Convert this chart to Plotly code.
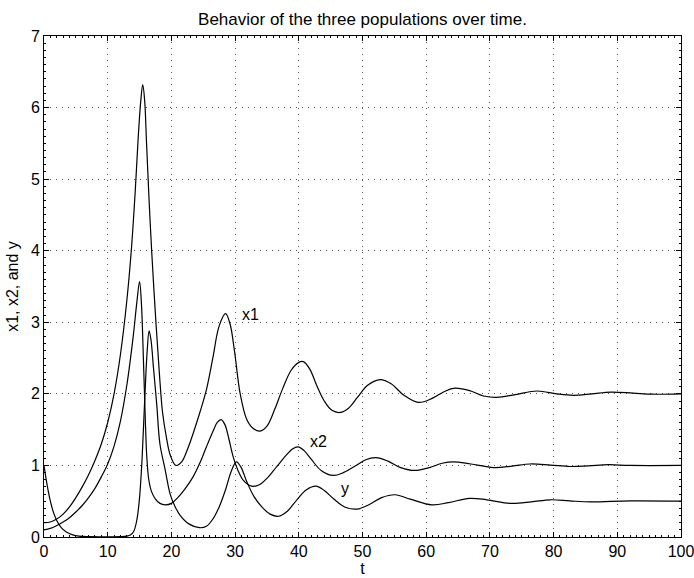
import plotly.graph_objects as go

# ---- data ----
t_x1 = [0, 1, 2, 3, 4, 5, 6, 7, 8, 9, 10, 11, 12, 13, 13.7, 14.3, 14.8, 15.2, 15.5, 15.8, 16.1,
        16.5, 16.9, 17.5, 18.1, 18.6, 19.2, 19.8, 20.7, 21.6, 22.5, 23.5, 24.5, 25.5, 26.5, 27.5,
        28.5, 29.2, 29.9, 30.8, 31.8, 32.8, 33.9, 35, 36.2, 37.5, 38.8, 40.0, 40.7, 41.7, 42.8,
        44, 45.2, 46.5, 47.8, 49.2, 50.8, 52.8, 54.5, 56.5, 58.8, 61, 62.8, 64.5, 67, 69, 71.1,
        74, 77.4, 80.5, 83.1, 86, 89, 92.5, 95.5, 100]
x1 = [0.2, 0.21, 0.25, 0.32, 0.42, 0.55, 0.7, 0.87, 1.07, 1.3, 1.6, 2.0, 2.55, 3.3, 4.0, 4.8,
      5.6, 6.1, 6.32, 6.1, 5.5, 4.7, 4.0, 3.1, 2.3, 1.75, 1.4, 1.15, 1.0, 1.05, 1.22, 1.47, 1.75,
      2.06, 2.5, 2.95, 3.12, 2.98, 2.6, 2.0, 1.65, 1.52, 1.48, 1.55, 1.78, 2.08, 2.33, 2.44,
      2.45, 2.35, 2.12, 1.9, 1.77, 1.74, 1.8, 1.95, 2.12, 2.2, 2.14, 1.98, 1.88, 1.94, 2.03,
      2.08, 2.04, 1.97, 1.95, 1.99, 2.04, 2.0, 1.98, 2.0, 2.025, 2.01, 1.995, 2.0]

t_x2 = [0, 1, 2, 3, 4, 5, 6, 7, 8, 9, 10, 11, 12, 13, 14, 14.6, 15.0, 15.3, 15.6, 15.9, 16.15,
        16.45, 16.9, 17.5, 18.2, 19.0, 20.0, 21.0, 22.2, 23.4, 24.5, 25.5, 26.5, 27.2, 27.8,
        28.4, 29.0, 29.7, 30.5, 31.3, 32.6, 33.8, 35, 36.5, 38, 39, 39.9, 40.8, 42, 43.5, 45.4,
        47, 49, 50.5, 52.1, 54, 56, 58.2, 60.5, 62.5, 64.3, 67, 70.6, 73.5, 76.3, 79.5, 82.6,
        85.5, 88.6, 92, 100]
x2 = [0.1, 0.12, 0.16, 0.21, 0.27, 0.35, 0.44, 0.55, 0.68, 0.84, 1.02, 1.27, 1.62, 2.12, 2.8,
      3.3, 3.57, 3.25, 2.5, 1.65, 1.1, 0.8, 0.63, 0.53, 0.47, 0.45, 0.47, 0.55, 0.68, 0.84,
      1.04, 1.26, 1.47, 1.6, 1.64, 1.57, 1.38, 1.12, 0.92, 0.79, 0.71, 0.73, 0.82, 0.98, 1.14,
      1.23, 1.26, 1.21, 1.08, 0.93, 0.86, 0.9, 1.0, 1.08, 1.11, 1.06, 0.97, 0.93, 0.97, 1.03,
      1.05, 1.02, 0.97, 0.99, 1.02, 1.005, 0.985, 0.995, 1.01, 1.0, 1.0]

t_y = [0, 0.5, 1, 1.5, 2, 2.7, 3.5, 4.5, 5.5, 7, 10, 12, 13, 13.6, 14.1, 14.6, 15.0, 15.4, 15.8,
       16.2, 16.5, 16.8, 17.2, 17.7, 18.2, 19, 19.8, 20.6, 21.4, 22.8, 24.4, 25.5, 26.5, 27.5,
       28.5, 29.4, 30.2, 30.9, 31.8, 33, 34.3, 35.5, 36.8, 38.2, 39.7, 41.2, 42.7, 44, 45.5,
       47.2, 49.2, 51, 53, 55.1, 57.5, 60.9, 63.5, 66.8, 69.5, 73.2, 76.5, 79.5, 82.5, 85.8,
       92, 100]
y = [1.0, 0.72, 0.5, 0.34, 0.23, 0.13, 0.07, 0.03, 0.012, 0.005, 0.003, 0.005, 0.012, 0.03,
     0.08, 0.25, 0.55, 1.1, 1.9, 2.6, 2.88, 2.75, 2.35, 1.85, 1.3, 0.95, 0.6, 0.42, 0.3, 0.18,
     0.13, 0.15, 0.25, 0.42, 0.66, 0.92, 1.05, 0.98, 0.78, 0.56, 0.41, 0.32, 0.29, 0.36, 0.52,
     0.66, 0.71, 0.65, 0.53, 0.42, 0.39, 0.45, 0.55, 0.59, 0.53, 0.45, 0.48, 0.54, 0.52, 0.47,
     0.49, 0.52, 0.505, 0.49, 0.505, 0.5]

x_ticks = [0, 10, 20, 30, 40, 50, 60, 70, 80, 90, 100]
y_ticks = [0, 1, 2, 3, 4, 5, 6, 7]

labels = [("x1", 32.4, 3.11), ("x2", 43.1, 1.33), ("y", 47.3, 0.68)]

FONT = "Liberation Sans, Arial, Helvetica, sans-serif"

fig = go.Figure()
for tt, vv in [(t_x1, x1), (t_x2, x2), (t_y, y)]:
    fig.add_trace(go.Scatter(x=tt, y=vv, mode="lines", cliponaxis=False,
                             line=dict(color="black", width=1.2, shape="spline", smoothing=1.0),
                             showlegend=False, hoverinfo="skip"))

for txt, tx, ty in labels:
    fig.add_annotation(x=tx, y=ty, text=txt, showarrow=False,
                       font=dict(family=FONT, size=16, color="black"),
                       xanchor="center", yanchor="middle")

axis_common = dict(
    showline=True, linecolor="black", linewidth=1, mirror="allticks",
    ticks="inside", ticklen=5, tickwidth=1, tickcolor="black",
    showgrid=True, gridcolor="#555555", gridwidth=1, griddash="1px,5px",
    zeroline=False, automargin=False, ticklabeloverflow="allow",
    tickfont=dict(family=FONT, size=16, color="black"),
)

fig.update_xaxes(range=[0, 100], tickvals=x_ticks, ticktext=[str(v) for v in x_ticks],
                 title=dict(text="t", font=dict(family=FONT, size=16, color="black"), standoff=0),
                 minor=dict(dtick=1, ticklen=2, ticks="inside", tickcolor="black", showgrid=False),
                 **axis_common)
fig.update_yaxes(range=[0, 7], tickvals=y_ticks, ticktext=[str(v) for v in y_ticks],
                 title=dict(text="x1, x2, and y", font=dict(family=FONT, size=16, color="black"), standoff=8),
                 minor=dict(dtick=0.1, ticklen=2, ticks="inside", tickcolor="black", showgrid=False),
                 **axis_common)

fig.update_layout(
    width=694, height=578,
    margin=dict(l=44, r=13, t=36, b=41),
    paper_bgcolor="white", plot_bgcolor="white",
    title=dict(text="Behavior of the three populations over time.",
               font=dict(family=FONT, size=17, color="black"),
               x=(44 + 681) / 2 / 694, xanchor="center",
               y=1 - 19 / 578, yanchor="middle", yref="container"),
)

fig.write_html("out.html", config={"displayModeBar": False},
               post_script="document.body.style.margin='0px';document.body.style.overflow='hidden';")
